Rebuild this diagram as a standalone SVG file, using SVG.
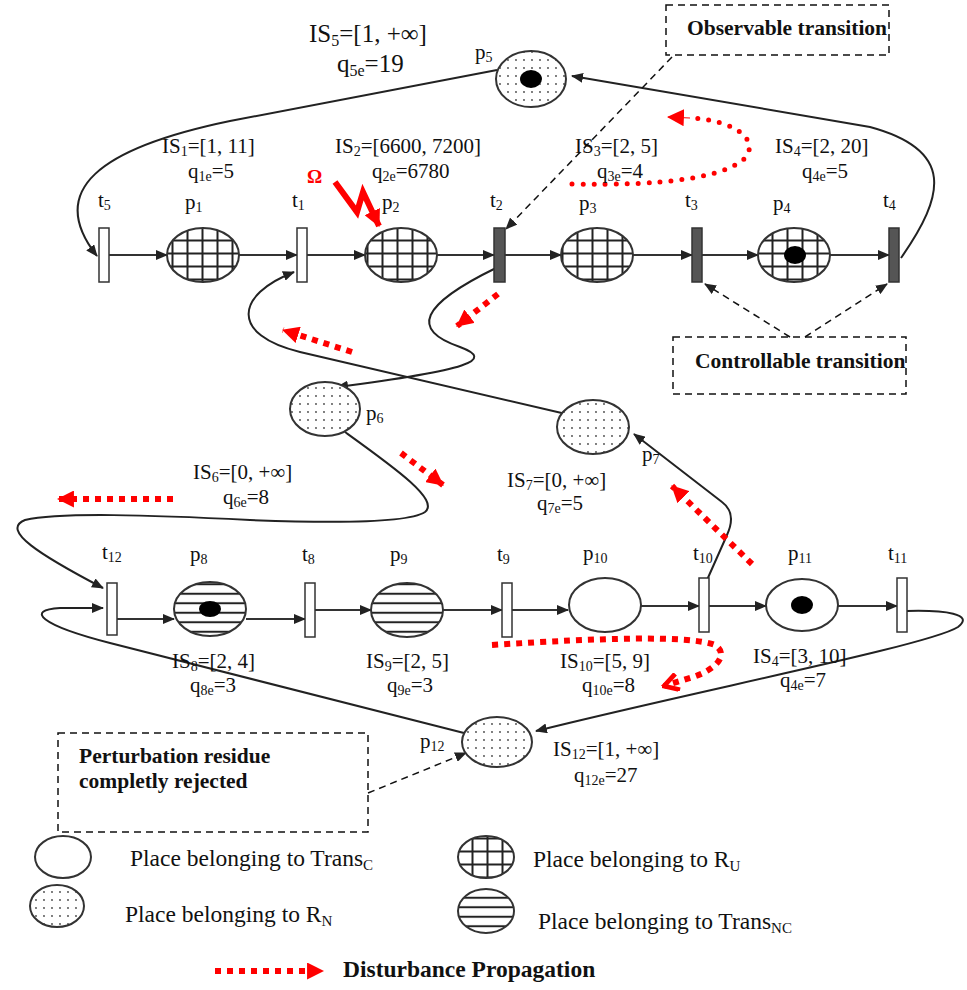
<svg xmlns="http://www.w3.org/2000/svg" width="967" height="990" viewBox="0 0 967 990">
<style>
text{font-family:"Liberation Serif","Times New Roman",serif;fill:#111}
.l{font-size:21px}
.s{font-size:14px}
.b{font-weight:bold;font-size:21.5px}
.pl{stroke:#333;stroke-width:2}
.tr{fill:#fff;stroke:#333;stroke-width:1.5}
.trd{fill:#555;stroke:#333;stroke-width:1.5}
.arc{fill:none;stroke:#222;stroke-width:2}
.hz{fill:none;stroke:#333;stroke-width:2}
.dsh{fill:none;stroke:#111;stroke-width:1.5;stroke-dasharray:7 5}
.red{fill:none;stroke:#ff0000;stroke-width:6;stroke-dasharray:6 6}
.rdot{fill:none;stroke:#ff0000;stroke-width:5;stroke-dasharray:0 11;stroke-linecap:round}
.tok{fill:#000}
.lg{font-size:23.5px}
.lgs{font-size:15px}
.big{font-size:25px}
.bigs{font-size:16px}
</style>
<defs>
<pattern id="grid" width="15" height="13" patternUnits="userSpaceOnUse"><rect width="15" height="13" fill="#fff"/><path d="M7.5 0V13M0 6.5H15" stroke="#222" stroke-width="2"/></pattern>
<pattern id="hl" width="10" height="9.5" patternUnits="userSpaceOnUse"><rect width="10" height="9.5" fill="#fff"/><path d="M0 4.75H10" stroke="#222" stroke-width="2"/></pattern>
<pattern id="dots" width="8" height="8" patternUnits="userSpaceOnUse"><rect width="8" height="8" fill="#fff"/><circle cx="4" cy="4" r="0.9" fill="#444"/></pattern>
<marker id="ah" viewBox="0 0 12 10" refX="11" refY="5" markerWidth="12" markerHeight="10" markerUnits="userSpaceOnUse" orient="auto"><path d="M0,0L12,5L0,10z" fill="#222"/></marker>
<marker id="rh" viewBox="0 0 16 16" refX="15" refY="8" markerWidth="17" markerHeight="17" markerUnits="userSpaceOnUse" orient="auto"><path d="M0,0L16,8L0,16z" fill="#ff0000"/></marker>
<marker id="rc" viewBox="0 0 16 16" refX="14" refY="8" markerWidth="19" markerHeight="19" markerUnits="userSpaceOnUse" orient="auto"><path d="M2,1L14,8L2,15" fill="none" stroke="#ff0000" stroke-width="4"/></marker>
</defs>
<rect width="967" height="990" fill="#fff"/>

<g id="connectors">
<path class="hz" d="M109 255H167" marker-end="url(#ah)"/>
<path class="hz" d="M239 255H297" marker-end="url(#ah)"/>
<path class="hz" d="M307 255H365" marker-end="url(#ah)"/>
<path class="hz" d="M437 255H494" marker-end="url(#ah)"/>
<path class="hz" d="M505 255H561" marker-end="url(#ah)"/>
<path class="hz" d="M633 255H692" marker-end="url(#ah)"/>
<path class="hz" d="M702 255H758" marker-end="url(#ah)"/>
<path class="hz" d="M830 255H889" marker-end="url(#ah)"/>
<path class="hz" d="M117 619H174" marker-end="url(#ah)"/>
<path class="hz" d="M246 619H305" marker-end="url(#ah)"/>
<path class="hz" d="M315 610H371" marker-end="url(#ah)"/>
<path class="hz" d="M443 610H502" marker-end="url(#ah)"/>
<path class="hz" d="M512 610H568" marker-end="url(#ah)"/>
<path class="hz" d="M641 606H699" marker-end="url(#ah)"/>
<path class="hz" d="M709 606H766" marker-end="url(#ah)"/>
<path class="hz" d="M838 606H897" marker-end="url(#ah)"/>
<path class="arc" d="M901 258C945 195 955 150 870 127L572 76" marker-end="url(#ah)"/>
<path class="arc" d="M497 70L230 121C100 148 45 190 97 256" marker-end="url(#ah)"/>
<path class="arc" d="M496 268C420 305 410 330 460 347C495 360 470 370 337 387" marker-end="url(#ah)"/>
<path class="arc" d="M566 414L300 352C230 335 235 295 294 272" marker-end="url(#ah)"/>
<path class="arc" d="M345 432C395 468 440 500 425 512C410 522 350 524 250 520C150 515 60 512 25 520C0 530 40 555 103 588" marker-end="url(#ah)"/>
<path class="arc" d="M907 611C945 610 975 614 958 627C930 645 700 690 536 731" marker-end="url(#ah)"/>
<path class="arc" d="M464 733L110 643C40 625 25 610 60 608L103 608" marker-end="url(#ah)"/>
<path class="arc" d="M707 580L727 535Q737 513 722 502L634 434" marker-end="url(#ah)"/>
<path class="dsh" d="M672 57L506 229" marker-end="url(#ah)"/>
<path class="dsh" d="M790 337L705 284" marker-end="url(#ah)"/>
<path class="dsh" d="M805 337L887 284" marker-end="url(#ah)"/>
<path class="dsh" d="M368 793L466 753" marker-end="url(#ah)"/>
<path class="rdot" d="M572 184C660 186 725 178 745 158C760 140 735 120 690 118"/>
<path d="M690 118L668 117" fill="none" stroke="#ff0000" stroke-width="1" marker-end="url(#rh)"/>
<path class="red" d="M498 294L457 326" marker-end="url(#rh)"/>
<path class="red" d="M352 352L283 330" marker-end="url(#rh)"/>
<path class="red" d="M401 453L443 485" marker-end="url(#rh)"/>
<path class="red" d="M173 499L58 499" marker-end="url(#rh)"/>
<path class="red" d="M752 564L672 486" marker-end="url(#rh)"/>
<path class="red" d="M492 645C600 638 690 635 715 645C730 655 715 670 693 677L664 686" marker-end="url(#rc)"/>
<polyline points="335,182 357,212 363,192 379,226" fill="none" stroke="#ff0000" stroke-width="6" marker-end="url(#rh)"/>
<text x="307" y="183" style="fill:#ff0000;font-weight:bold;font-size:19px">Ω</text>
</g>

<g id="p5"><ellipse class="pl" cx="531" cy="79" rx="35" ry="28" fill="url(#dots)"/><ellipse class="tok" cx="531" cy="79" rx="11" ry="9"/>
<text class="l" x="475" y="59">p<tspan class="s" dy="3">5</tspan></text>
<text class="big" x="309" y="42">IS<tspan class="bigs" dy="4">5</tspan><tspan dy="-4">=[1, +∞]</tspan></text>
<text class="big" x="337" y="72">q<tspan class="bigs" dy="4">5e</tspan><tspan dy="-4">=19</tspan></text></g>

<g id="t5"><rect class="tr" x="99" y="228" width="10" height="54"/><text class="l" x="98" y="207">t<tspan class="s" dy="3">5</tspan></text></g>
<g id="p1"><ellipse class="pl" cx="203" cy="255" rx="36" ry="27" fill="url(#grid)"/><text class="l" x="185" y="209">p<tspan class="s" dy="3">1</tspan></text>
<text class="l" x="162" y="153">IS<tspan class="s" dy="3">1</tspan><tspan dy="-3">=[1, 11]</tspan></text>
<text class="l" x="188" y="178">q<tspan class="s" dy="3">1e</tspan><tspan dy="-3">=5</tspan></text></g>
<g id="t1"><rect class="tr" x="297" y="228" width="10" height="54"/><text class="l" x="292" y="207">t<tspan class="s" dy="3">1</tspan></text></g>
<g id="p2"><ellipse class="pl" cx="401" cy="255" rx="36" ry="27" fill="url(#grid)"/><text class="l" x="382" y="209">p<tspan class="s" dy="3">2</tspan></text>
<text class="l" x="335" y="153">IS<tspan class="s" dy="3">2</tspan><tspan dy="-3">=[6600, 7200]</tspan></text>
<text class="l" x="372" y="178">q<tspan class="s" dy="3">2e</tspan><tspan dy="-3">=6780</tspan></text></g>
<g id="t2"><rect class="trd" x="494" y="228" width="11" height="54"/><text class="l" x="490" y="207">t<tspan class="s" dy="3">2</tspan></text></g>
<g id="p3"><ellipse class="pl" cx="597" cy="255" rx="36" ry="27" fill="url(#grid)"/><text class="l" x="579" y="210">p<tspan class="s" dy="3">3</tspan></text>
<text class="l" x="575" y="153">IS<tspan class="s" dy="3">3</tspan><tspan dy="-3">=[2, 5]</tspan></text>
<text class="l" x="597" y="178">q<tspan class="s" dy="3">3e</tspan><tspan dy="-3">=4</tspan></text></g>
<g id="t3"><rect class="trd" x="692" y="228" width="10" height="54"/><text class="l" x="685" y="207">t<tspan class="s" dy="3">3</tspan></text></g>
<g id="p4"><ellipse class="pl" cx="794" cy="255" rx="36" ry="27" fill="url(#grid)"/><ellipse class="tok" cx="795" cy="255" rx="11" ry="9"/><text class="l" x="773" y="210">p<tspan class="s" dy="3">4</tspan></text>
<text class="l" x="775" y="153">IS<tspan class="s" dy="3">4</tspan><tspan dy="-3">=[2, 20]</tspan></text>
<text class="l" x="802" y="178">q<tspan class="s" dy="3">4e</tspan><tspan dy="-3">=5</tspan></text></g>
<g id="t4"><rect class="trd" x="889" y="228" width="10" height="54"/><text class="l" x="883" y="207">t<tspan class="s" dy="3">4</tspan></text></g>

<g id="p6"><ellipse class="pl" cx="325" cy="409" rx="35" ry="27" fill="url(#dots)"/><text class="l" x="366" y="420">p<tspan class="s" dy="3">6</tspan></text>
<text class="l" x="193" y="479">IS<tspan class="s" dy="3">6</tspan><tspan dy="-3">=[0, +∞]</tspan></text>
<text class="l" x="223" y="504">q<tspan class="s" dy="3">6e</tspan><tspan dy="-3">=8</tspan></text></g>
<g id="p7"><ellipse class="pl" cx="593" cy="427" rx="36" ry="27" fill="url(#dots)"/><text class="l" x="642" y="461">p<tspan class="s" dy="3">7</tspan></text>
<text class="l" x="507" y="487">IS<tspan class="s" dy="3">7</tspan><tspan dy="-3">=[0, +∞]</tspan></text>
<text class="l" x="537" y="510">q<tspan class="s" dy="3">7e</tspan><tspan dy="-3">=5</tspan></text></g>

<g id="t12"><rect class="tr" x="107" y="583" width="10" height="52"/><text class="l" x="102" y="559">t<tspan class="s" dy="3">12</tspan></text></g>
<g id="p8"><ellipse class="pl" cx="210" cy="609" rx="36" ry="27" fill="url(#hl)"/><ellipse class="tok" cx="210" cy="609" rx="11" ry="8"/><text class="l" x="190" y="561">p<tspan class="s" dy="3">8</tspan></text>
<text class="l" x="172" y="668">IS<tspan class="s" dy="3">8</tspan><tspan dy="-3">=[2, 4]</tspan></text>
<text class="l" x="190" y="692">q<tspan class="s" dy="3">8e</tspan><tspan dy="-3">=3</tspan></text></g>
<g id="t8"><rect class="tr" x="305" y="583" width="10" height="54"/><text class="l" x="302" y="561">t<tspan class="s" dy="3">8</tspan></text></g>
<g id="p9"><ellipse class="pl" cx="407" cy="610" rx="36" ry="27" fill="url(#hl)"/><text class="l" x="390" y="561">p<tspan class="s" dy="3">9</tspan></text>
<text class="l" x="366" y="668">IS<tspan class="s" dy="3">9</tspan><tspan dy="-3">=[2, 5]</tspan></text>
<text class="l" x="387" y="692">q<tspan class="s" dy="3">9e</tspan><tspan dy="-3">=3</tspan></text></g>
<g id="t9"><rect class="tr" x="502" y="583" width="10" height="54"/><text class="l" x="497" y="561">t<tspan class="s" dy="3">9</tspan></text></g>
<g id="p10"><ellipse class="pl" cx="605" cy="605" rx="36" ry="27" fill="#fff"/><text class="l" x="583" y="560">p<tspan class="s" dy="3">10</tspan></text>
<text class="l" x="560" y="668">IS<tspan class="s" dy="3">10</tspan><tspan dy="-3">=[5, 9]</tspan></text>
<text class="l" x="582" y="692">q<tspan class="s" dy="3">10e</tspan><tspan dy="-3">=8</tspan></text></g>
<g id="t10"><rect class="tr" x="699" y="578" width="10" height="54"/><text class="l" x="693" y="560">t<tspan class="s" dy="3">10</tspan></text></g>
<g id="p11"><ellipse class="pl" cx="802" cy="605" rx="36" ry="26" fill="#fff"/><ellipse class="tok" cx="802" cy="605" rx="11" ry="9"/><text class="l" x="788" y="560">p<tspan class="s" dy="3">11</tspan></text>
<text class="l" x="753" y="663">IS<tspan class="s" dy="3">4</tspan><tspan dy="-3">=[3, 10]</tspan></text>
<text class="l" x="780" y="687">q<tspan class="s" dy="3">4e</tspan><tspan dy="-3">=7</tspan></text></g>
<g id="t11"><rect class="tr" x="897" y="578" width="10" height="54"/><text class="l" x="888" y="560">t<tspan class="s" dy="3">11</tspan></text></g>
<g id="p12"><ellipse class="pl" cx="497" cy="742" rx="35" ry="25" fill="url(#dots)"/><text class="l" x="420" y="748">p<tspan class="s" dy="3">12</tspan></text>
<text class="l" x="553" y="756">IS<tspan class="s" dy="3">12</tspan><tspan dy="-3">=[1, +∞]</tspan></text>
<text class="l" x="574" y="782">q<tspan class="s" dy="3">12e</tspan><tspan dy="-3">=27</tspan></text></g>

<g id="note-observable"><rect class="dsh" x="666" y="5" width="223" height="50"/><text class="b" x="687" y="35">Observable transition</text></g>
<g id="note-controllable"><rect class="dsh" x="673" y="337" width="233" height="57"/><text class="b" x="695" y="368">Controllable transition</text></g>
<g id="note-residue"><rect class="dsh" x="58" y="733" width="310" height="99"/><text class="b" x="79" y="763">Perturbation residue</text><text class="b" x="79" y="788">completly rejected</text></g>

<g id="legend">
<ellipse class="pl" cx="63" cy="857" rx="28" ry="21" fill="#fff"/>
<text class="lg" x="130" y="866">Place belonging to Trans<tspan class="lgs" dy="4">C</tspan></text>
<ellipse class="pl" cx="57" cy="906" rx="27" ry="21" fill="url(#dots)"/>
<text class="lg" x="125" y="922">Place belonging to R<tspan class="lgs" dy="4">N</tspan></text>
<ellipse class="pl" cx="486" cy="857" rx="28" ry="21" fill="url(#grid)"/>
<text class="lg" x="533" y="867">Place belonging to R<tspan class="lgs" dy="4">U</tspan></text>
<ellipse class="pl" cx="486" cy="911" rx="28" ry="22" fill="url(#hl)"/>
<text class="lg" x="538" y="929">Place belonging to Trans<tspan class="lgs" dy="4">NC</tspan></text>
<path class="red" d="M215 971L323 971" marker-end="url(#rh)"/>
<text x="343" y="977" style="font-weight:bold;font-size:23.5px">Disturbance Propagation</text>
</g>
</svg>
